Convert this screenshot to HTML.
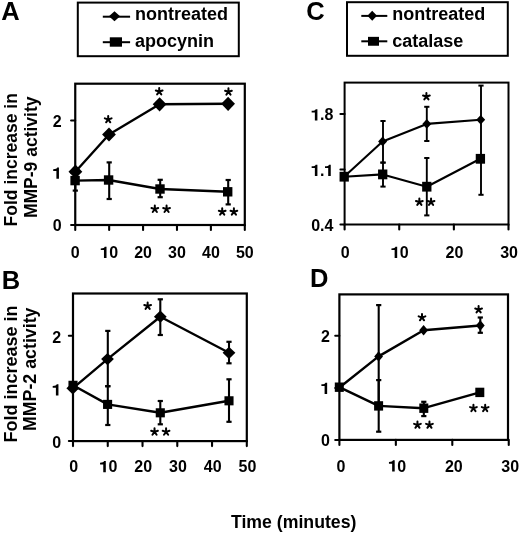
<!DOCTYPE html>
<html><head><meta charset="utf-8"><style>
html,body{margin:0;padding:0;background:#fff;}
svg{display:block;will-change:transform;filter:blur(0.3px);}
text{font-family:"Liberation Sans",sans-serif;font-weight:bold;fill:#000;}
</style></head><body>
<svg width="520" height="534" viewBox="0 0 520 534">
<text x="1.2" y="19.6" font-size="25.5" text-anchor="start" >A</text>
<text x="1.8" y="289.1" font-size="25.5" text-anchor="start" >B</text>
<text x="306.2" y="20.2" font-size="25.5" text-anchor="start" >C</text>
<text x="310.0" y="286.9" font-size="25.5" text-anchor="start" >D</text>
<rect x="77.8" y="2.6" width="161" height="53.6" fill="none" stroke="#000" stroke-width="2"/>
<line x1="102.80" y1="16.70" x2="130.10" y2="16.70" stroke="#000" stroke-width="2.0" stroke-linecap="butt"/>
<polygon points="108.90,16.20 114.50,11.20 120.10,16.20 114.50,21.20" fill="#000"/>
<line x1="102.80" y1="42.20" x2="130.10" y2="42.20" stroke="#000" stroke-width="2.0" stroke-linecap="butt"/>
<rect x="109.80" y="37.30" width="12.20" height="9.40" fill="#000"/>
<text x="135.0" y="20.0" font-size="18" text-anchor="start" >nontreated</text>
<text x="135.0" y="47.1" font-size="18" text-anchor="start" >apocynin</text>
<rect x="347" y="2.2" width="160.8" height="53.6" fill="none" stroke="#000" stroke-width="2"/>
<line x1="361.30" y1="15.90" x2="387.30" y2="15.90" stroke="#000" stroke-width="2.0" stroke-linecap="butt"/>
<polygon points="367.40,15.80 372.20,10.80 377.00,15.80 372.20,20.80" fill="#000"/>
<line x1="361.30" y1="41.30" x2="387.30" y2="41.30" stroke="#000" stroke-width="2.0" stroke-linecap="butt"/>
<rect x="368.00" y="36.85" width="11.00" height="8.90" fill="#000"/>
<text x="392.3" y="20.0" font-size="18" text-anchor="start" >nontreated</text>
<text x="392.3" y="47.0" font-size="18" text-anchor="start" >catalase</text>
<rect x="75.25" y="83.7" width="169.55" height="141.30" fill="none" stroke="#000" stroke-width="2.2"/>
<line x1="75.25" y1="225.00" x2="75.25" y2="230.00" stroke="#000" stroke-width="2.1" stroke-linecap="round"/>
<text x="70.80" y="258.00" font-size="16">0</text>
<line x1="109.16" y1="225.00" x2="109.16" y2="230.00" stroke="#000" stroke-width="2.1" stroke-linecap="round"/>
<path d="M103.96,258.00L106.51,258.00L106.51,246.75L104.76,246.75C104.46,247.80 103.26,248.30 100.76,248.40L100.76,250.10L103.96,250.10Z" fill="#000"/>
<text x="109.16" y="258.00" font-size="16">0</text>
<line x1="143.07" y1="225.00" x2="143.07" y2="230.00" stroke="#000" stroke-width="2.1" stroke-linecap="round"/>
<text x="134.17" y="258.00" font-size="16">2</text>
<text x="143.07" y="258.00" font-size="16">0</text>
<line x1="176.98" y1="225.00" x2="176.98" y2="230.00" stroke="#000" stroke-width="2.1" stroke-linecap="round"/>
<text x="168.08" y="258.00" font-size="16">3</text>
<text x="176.98" y="258.00" font-size="16">0</text>
<line x1="210.89" y1="225.00" x2="210.89" y2="230.00" stroke="#000" stroke-width="2.1" stroke-linecap="round"/>
<text x="201.99" y="258.00" font-size="16">4</text>
<text x="210.89" y="258.00" font-size="16">0</text>
<line x1="244.80" y1="225.00" x2="244.80" y2="230.00" stroke="#000" stroke-width="2.1" stroke-linecap="round"/>
<text x="235.90" y="258.00" font-size="16">5</text>
<text x="244.80" y="258.00" font-size="16">0</text>
<line x1="71.05" y1="225.00" x2="75.25" y2="225.00" stroke="#000" stroke-width="2.0" stroke-linecap="round"/>
<text x="52.70" y="231.00" font-size="16">0</text>
<line x1="71.05" y1="172.80" x2="75.25" y2="172.80" stroke="#000" stroke-width="2.0" stroke-linecap="round"/>
<path d="M56.40,178.80L58.95,178.80L58.95,167.55L57.20,167.55C56.90,168.60 55.70,169.10 53.20,169.20L53.20,170.90L56.40,170.90Z" fill="#000"/>
<line x1="71.05" y1="120.60" x2="75.25" y2="120.60" stroke="#000" stroke-width="2.0" stroke-linecap="round"/>
<text x="52.70" y="126.60" font-size="16">2</text>
<polyline points="75.10,180.60 108.60,180.00 160.00,189.00 227.70,191.80" fill="none" stroke="#000" stroke-width="2.4" stroke-linejoin="round"/>
<line x1="75.30" y1="170.60" x2="75.30" y2="190.60" stroke="#000" stroke-width="2.1" stroke-linecap="butt"/>
<line x1="72.70" y1="170.60" x2="77.90" y2="170.60" stroke="#000" stroke-width="2.2" stroke-linecap="butt"/>
<line x1="72.70" y1="190.60" x2="77.90" y2="190.60" stroke="#000" stroke-width="2.2" stroke-linecap="butt"/>
<line x1="109.20" y1="162.40" x2="109.20" y2="199.00" stroke="#000" stroke-width="2.1" stroke-linecap="butt"/>
<line x1="106.60" y1="162.40" x2="111.80" y2="162.40" stroke="#000" stroke-width="2.2" stroke-linecap="butt"/>
<line x1="106.60" y1="199.00" x2="111.80" y2="199.00" stroke="#000" stroke-width="2.2" stroke-linecap="butt"/>
<line x1="160.20" y1="179.80" x2="160.20" y2="197.20" stroke="#000" stroke-width="2.1" stroke-linecap="butt"/>
<line x1="157.60" y1="179.80" x2="162.80" y2="179.80" stroke="#000" stroke-width="2.2" stroke-linecap="butt"/>
<line x1="157.60" y1="197.20" x2="162.80" y2="197.20" stroke="#000" stroke-width="2.2" stroke-linecap="butt"/>
<line x1="228.20" y1="180.00" x2="228.20" y2="204.40" stroke="#000" stroke-width="2.1" stroke-linecap="butt"/>
<line x1="225.60" y1="180.00" x2="230.80" y2="180.00" stroke="#000" stroke-width="2.2" stroke-linecap="butt"/>
<line x1="225.60" y1="204.40" x2="230.80" y2="204.40" stroke="#000" stroke-width="2.2" stroke-linecap="butt"/>
<rect x="70.40" y="175.90" width="9.40" height="9.40" fill="#000"/>
<rect x="103.90" y="175.30" width="9.40" height="9.40" fill="#000"/>
<rect x="155.30" y="184.30" width="9.40" height="9.40" fill="#000"/>
<rect x="223.00" y="187.10" width="9.40" height="9.40" fill="#000"/>
<polyline points="75.40,171.70 109.00,134.50 159.60,104.30 228.10,103.80" fill="none" stroke="#000" stroke-width="2.4" stroke-linejoin="round"/>
<polygon points="68.50,171.70 75.40,164.60 82.30,171.70 75.40,178.80" fill="#000"/>
<polygon points="102.10,134.50 109.00,127.40 115.90,134.50 109.00,141.60" fill="#000"/>
<polygon points="152.70,104.30 159.60,97.20 166.50,104.30 159.60,111.40" fill="#000"/>
<polygon points="221.20,103.80 228.10,96.70 235.00,103.80 228.10,110.90" fill="#000"/>
<rect x="73.0" y="293.5" width="173.80" height="147.60" fill="none" stroke="#000" stroke-width="2.2"/>
<line x1="73.00" y1="441.10" x2="73.00" y2="446.10" stroke="#000" stroke-width="2.1" stroke-linecap="round"/>
<text x="69.25" y="472.30" font-size="16">0</text>
<line x1="107.76" y1="441.10" x2="107.76" y2="446.10" stroke="#000" stroke-width="2.1" stroke-linecap="round"/>
<path d="M103.26,472.30L105.81,472.30L105.81,461.05L104.06,461.05C103.76,462.10 102.56,462.60 100.06,462.70L100.06,464.40L103.26,464.40Z" fill="#000"/>
<text x="108.46" y="472.30" font-size="16">0</text>
<line x1="142.52" y1="441.10" x2="142.52" y2="446.10" stroke="#000" stroke-width="2.1" stroke-linecap="round"/>
<text x="134.32" y="472.30" font-size="16">2</text>
<text x="143.22" y="472.30" font-size="16">0</text>
<line x1="177.28" y1="441.10" x2="177.28" y2="446.10" stroke="#000" stroke-width="2.1" stroke-linecap="round"/>
<text x="169.08" y="472.30" font-size="16">3</text>
<text x="177.98" y="472.30" font-size="16">0</text>
<line x1="212.04" y1="441.10" x2="212.04" y2="446.10" stroke="#000" stroke-width="2.1" stroke-linecap="round"/>
<text x="203.84" y="472.30" font-size="16">4</text>
<text x="212.74" y="472.30" font-size="16">0</text>
<line x1="246.80" y1="441.10" x2="246.80" y2="446.10" stroke="#000" stroke-width="2.1" stroke-linecap="round"/>
<text x="238.60" y="472.30" font-size="16">5</text>
<text x="247.50" y="472.30" font-size="16">0</text>
<line x1="68.80" y1="441.10" x2="73.00" y2="441.10" stroke="#000" stroke-width="2.0" stroke-linecap="round"/>
<text x="52.20" y="448.30" font-size="16">0</text>
<line x1="68.80" y1="388.40" x2="73.00" y2="388.40" stroke="#000" stroke-width="2.0" stroke-linecap="round"/>
<path d="M55.90,395.60L58.45,395.60L58.45,384.35L56.70,384.35C56.40,385.40 55.20,385.90 52.70,386.00L52.70,387.70L55.90,387.70Z" fill="#000"/>
<line x1="68.80" y1="335.70" x2="73.00" y2="335.70" stroke="#000" stroke-width="2.0" stroke-linecap="round"/>
<text x="52.20" y="342.90" font-size="16">2</text>
<polyline points="73.00,385.30 107.60,404.40 160.30,412.80 229.00,400.80" fill="none" stroke="#000" stroke-width="2.4" stroke-linejoin="round"/>
<line x1="107.80" y1="386.20" x2="107.80" y2="425.00" stroke="#000" stroke-width="2.1" stroke-linecap="butt"/>
<line x1="105.20" y1="386.20" x2="110.40" y2="386.20" stroke="#000" stroke-width="2.2" stroke-linecap="butt"/>
<line x1="105.20" y1="425.00" x2="110.40" y2="425.00" stroke="#000" stroke-width="2.2" stroke-linecap="butt"/>
<line x1="160.30" y1="401.00" x2="160.30" y2="424.30" stroke="#000" stroke-width="2.1" stroke-linecap="butt"/>
<line x1="157.70" y1="401.00" x2="162.90" y2="401.00" stroke="#000" stroke-width="2.2" stroke-linecap="butt"/>
<line x1="157.70" y1="424.30" x2="162.90" y2="424.30" stroke="#000" stroke-width="2.2" stroke-linecap="butt"/>
<line x1="229.00" y1="379.30" x2="229.00" y2="421.80" stroke="#000" stroke-width="2.1" stroke-linecap="butt"/>
<line x1="226.40" y1="379.30" x2="231.60" y2="379.30" stroke="#000" stroke-width="2.2" stroke-linecap="butt"/>
<line x1="226.40" y1="421.80" x2="231.60" y2="421.80" stroke="#000" stroke-width="2.2" stroke-linecap="butt"/>
<rect x="68.45" y="380.75" width="9.10" height="9.10" fill="#000"/>
<rect x="103.05" y="399.85" width="9.10" height="9.10" fill="#000"/>
<rect x="155.75" y="408.25" width="9.10" height="9.10" fill="#000"/>
<rect x="224.45" y="396.25" width="9.10" height="9.10" fill="#000"/>
<polyline points="72.80,388.30 107.50,359.10 160.30,316.70 229.00,352.80" fill="none" stroke="#000" stroke-width="2.4" stroke-linejoin="round"/>
<line x1="107.80" y1="330.90" x2="107.80" y2="386.20" stroke="#000" stroke-width="2.1" stroke-linecap="butt"/>
<line x1="105.20" y1="330.90" x2="110.40" y2="330.90" stroke="#000" stroke-width="2.2" stroke-linecap="butt"/>
<line x1="105.20" y1="386.20" x2="110.40" y2="386.20" stroke="#000" stroke-width="2.2" stroke-linecap="butt"/>
<line x1="160.30" y1="299.30" x2="160.30" y2="335.00" stroke="#000" stroke-width="2.1" stroke-linecap="butt"/>
<line x1="157.70" y1="299.30" x2="162.90" y2="299.30" stroke="#000" stroke-width="2.2" stroke-linecap="butt"/>
<line x1="157.70" y1="335.00" x2="162.90" y2="335.00" stroke="#000" stroke-width="2.2" stroke-linecap="butt"/>
<line x1="229.00" y1="341.80" x2="229.00" y2="363.30" stroke="#000" stroke-width="2.1" stroke-linecap="butt"/>
<line x1="226.40" y1="341.80" x2="231.60" y2="341.80" stroke="#000" stroke-width="2.2" stroke-linecap="butt"/>
<line x1="226.40" y1="363.30" x2="231.60" y2="363.30" stroke="#000" stroke-width="2.2" stroke-linecap="butt"/>
<polygon points="66.40,388.30 72.80,382.20 79.20,388.30 72.80,394.40" fill="#000"/>
<polygon points="101.10,359.10 107.50,353.00 113.90,359.10 107.50,365.20" fill="#000"/>
<polygon points="153.90,316.70 160.30,310.60 166.70,316.70 160.30,322.80" fill="#000"/>
<polygon points="222.60,352.80 229.00,346.70 235.40,352.80 229.00,358.90" fill="#000"/>
<rect x="344.6" y="82.6" width="163.90" height="141.90" fill="none" stroke="#000" stroke-width="2.0"/>
<line x1="344.60" y1="224.50" x2="344.60" y2="229.50" stroke="#000" stroke-width="2.1" stroke-linecap="round"/>
<text x="340.75" y="258.00" font-size="16">0</text>
<line x1="399.23" y1="224.50" x2="399.23" y2="229.50" stroke="#000" stroke-width="2.1" stroke-linecap="round"/>
<path d="M394.64,258.00L397.19,258.00L397.19,246.75L395.44,246.75C395.14,247.80 393.94,248.30 391.44,248.40L391.44,250.10L394.64,250.10Z" fill="#000"/>
<text x="399.83" y="258.00" font-size="16">0</text>
<line x1="453.87" y1="224.50" x2="453.87" y2="229.50" stroke="#000" stroke-width="2.1" stroke-linecap="round"/>
<text x="445.57" y="258.00" font-size="16">2</text>
<text x="454.47" y="258.00" font-size="16">0</text>
<line x1="508.50" y1="224.50" x2="508.50" y2="229.50" stroke="#000" stroke-width="2.1" stroke-linecap="round"/>
<text x="500.20" y="258.00" font-size="16">3</text>
<text x="509.10" y="258.00" font-size="16">0</text>
<line x1="340.40" y1="224.50" x2="344.60" y2="224.50" stroke="#000" stroke-width="2.0" stroke-linecap="round"/>
<text x="311.16" y="230.90" font-size="16">0</text>
<text x="320.06" y="230.90" font-size="16">.</text>
<text x="324.50" y="230.90" font-size="16">4</text>
<line x1="340.40" y1="169.50" x2="344.60" y2="169.50" stroke="#000" stroke-width="2.0" stroke-linecap="round"/>
<path d="M314.86,175.90L317.41,175.90L317.41,164.65L315.66,164.65C315.36,165.70 314.16,166.20 311.66,166.30L311.66,168.00L314.86,168.00Z" fill="#000"/>
<text x="320.06" y="175.90" font-size="16">.</text>
<path d="M328.20,175.90L330.75,175.90L330.75,164.65L329.00,164.65C328.70,165.70 327.50,166.20 325.00,166.30L325.00,168.00L328.20,168.00Z" fill="#000"/>
<line x1="340.40" y1="114.00" x2="344.60" y2="114.00" stroke="#000" stroke-width="2.0" stroke-linecap="round"/>
<path d="M314.86,120.40L317.41,120.40L317.41,109.15L315.66,109.15C315.36,110.20 314.16,110.70 311.66,110.80L311.66,112.50L314.86,112.50Z" fill="#000"/>
<text x="320.06" y="120.40" font-size="16">.</text>
<text x="324.50" y="120.40" font-size="16">8</text>
<polyline points="344.20,176.70 382.70,174.40 426.80,186.70 480.40,158.80" fill="none" stroke="#000" stroke-width="2.1" stroke-linejoin="round"/>
<line x1="383.00" y1="162.60" x2="383.00" y2="186.60" stroke="#000" stroke-width="1.9" stroke-linecap="butt"/>
<line x1="380.40" y1="162.60" x2="385.60" y2="162.60" stroke="#000" stroke-width="2.0" stroke-linecap="butt"/>
<line x1="380.40" y1="186.60" x2="385.60" y2="186.60" stroke="#000" stroke-width="2.0" stroke-linecap="butt"/>
<line x1="426.80" y1="158.00" x2="426.80" y2="215.40" stroke="#000" stroke-width="1.9" stroke-linecap="butt"/>
<line x1="424.20" y1="158.00" x2="429.40" y2="158.00" stroke="#000" stroke-width="2.0" stroke-linecap="butt"/>
<line x1="424.20" y1="215.40" x2="429.40" y2="215.40" stroke="#000" stroke-width="2.0" stroke-linecap="butt"/>
<line x1="481.00" y1="85.60" x2="481.00" y2="194.80" stroke="#000" stroke-width="1.9" stroke-linecap="butt"/>
<line x1="478.40" y1="85.60" x2="483.60" y2="85.60" stroke="#000" stroke-width="2.0" stroke-linecap="butt"/>
<line x1="478.40" y1="194.80" x2="483.60" y2="194.80" stroke="#000" stroke-width="2.0" stroke-linecap="butt"/>
<rect x="339.55" y="171.80" width="9.30" height="9.80" fill="#000"/>
<rect x="378.05" y="169.50" width="9.30" height="9.80" fill="#000"/>
<rect x="422.15" y="181.80" width="9.30" height="9.80" fill="#000"/>
<rect x="475.75" y="153.90" width="9.30" height="9.80" fill="#000"/>
<polyline points="344.40,176.50 382.60,141.40 426.80,123.90 480.70,119.70" fill="none" stroke="#000" stroke-width="2.1" stroke-linejoin="round"/>
<line x1="383.00" y1="121.00" x2="383.00" y2="162.60" stroke="#000" stroke-width="1.9" stroke-linecap="butt"/>
<line x1="380.40" y1="121.00" x2="385.60" y2="121.00" stroke="#000" stroke-width="2.0" stroke-linecap="butt"/>
<line x1="380.40" y1="162.60" x2="385.60" y2="162.60" stroke="#000" stroke-width="2.0" stroke-linecap="butt"/>
<line x1="426.80" y1="106.80" x2="426.80" y2="141.00" stroke="#000" stroke-width="1.9" stroke-linecap="butt"/>
<line x1="424.20" y1="106.80" x2="429.40" y2="106.80" stroke="#000" stroke-width="2.0" stroke-linecap="butt"/>
<line x1="424.20" y1="141.00" x2="429.40" y2="141.00" stroke="#000" stroke-width="2.0" stroke-linecap="butt"/>
<polygon points="378.10,141.40 382.60,136.60 387.10,141.40 382.60,146.20" fill="#000"/>
<polygon points="422.30,123.90 426.80,119.10 431.30,123.90 426.80,128.70" fill="#000"/>
<polygon points="476.20,119.70 480.70,114.90 485.20,119.70 480.70,124.50" fill="#000"/>
<rect x="339.4" y="294.4" width="168.60" height="145.50" fill="none" stroke="#000" stroke-width="2.2"/>
<line x1="339.40" y1="439.90" x2="339.40" y2="444.90" stroke="#000" stroke-width="2.1" stroke-linecap="round"/>
<text x="336.45" y="471.60" font-size="16">0</text>
<line x1="395.85" y1="439.90" x2="395.85" y2="444.90" stroke="#000" stroke-width="2.1" stroke-linecap="round"/>
<path d="M392.15,471.60L394.70,471.60L394.70,460.35L392.95,460.35C392.65,461.40 391.45,461.90 388.95,462.00L388.95,463.70L392.15,463.70Z" fill="#000"/>
<text x="397.35" y="471.60" font-size="16">0</text>
<line x1="452.30" y1="439.90" x2="452.30" y2="444.90" stroke="#000" stroke-width="2.1" stroke-linecap="round"/>
<text x="444.90" y="471.60" font-size="16">2</text>
<text x="453.80" y="471.60" font-size="16">0</text>
<line x1="508.75" y1="439.90" x2="508.75" y2="444.90" stroke="#000" stroke-width="2.1" stroke-linecap="round"/>
<text x="501.35" y="471.60" font-size="16">3</text>
<text x="510.25" y="471.60" font-size="16">0</text>
<line x1="335.20" y1="439.90" x2="339.40" y2="439.90" stroke="#000" stroke-width="2.0" stroke-linecap="round"/>
<text x="320.90" y="445.90" font-size="16">0</text>
<line x1="335.20" y1="387.90" x2="339.40" y2="387.90" stroke="#000" stroke-width="2.0" stroke-linecap="round"/>
<path d="M324.60,393.90L327.15,393.90L327.15,382.65L325.40,382.65C325.10,383.70 323.90,384.20 321.40,384.30L321.40,386.00L324.60,386.00Z" fill="#000"/>
<line x1="335.20" y1="335.70" x2="339.40" y2="335.70" stroke="#000" stroke-width="2.0" stroke-linecap="round"/>
<text x="320.90" y="341.70" font-size="16">2</text>
<polyline points="339.30,387.20 378.60,405.90 423.80,408.20 479.80,392.40" fill="none" stroke="#000" stroke-width="2.4" stroke-linejoin="round"/>
<line x1="378.70" y1="380.10" x2="378.70" y2="431.70" stroke="#000" stroke-width="2.1" stroke-linecap="butt"/>
<line x1="376.10" y1="380.10" x2="381.30" y2="380.10" stroke="#000" stroke-width="2.2" stroke-linecap="butt"/>
<line x1="376.10" y1="431.70" x2="381.30" y2="431.70" stroke="#000" stroke-width="2.2" stroke-linecap="butt"/>
<line x1="423.80" y1="401.80" x2="423.80" y2="416.10" stroke="#000" stroke-width="2.1" stroke-linecap="butt"/>
<line x1="421.20" y1="401.80" x2="426.40" y2="401.80" stroke="#000" stroke-width="2.2" stroke-linecap="butt"/>
<line x1="421.20" y1="416.10" x2="426.40" y2="416.10" stroke="#000" stroke-width="2.2" stroke-linecap="butt"/>
<rect x="334.80" y="382.50" width="9.00" height="9.40" fill="#000"/>
<rect x="374.10" y="401.20" width="9.00" height="9.40" fill="#000"/>
<rect x="419.30" y="403.50" width="9.00" height="9.40" fill="#000"/>
<rect x="475.30" y="387.70" width="9.00" height="9.40" fill="#000"/>
<polyline points="339.50,387.50 378.60,356.40 423.60,330.20 480.30,325.50" fill="none" stroke="#000" stroke-width="2.4" stroke-linejoin="round"/>
<line x1="378.70" y1="305.10" x2="378.70" y2="407.70" stroke="#000" stroke-width="2.1" stroke-linecap="butt"/>
<line x1="376.10" y1="305.10" x2="381.30" y2="305.10" stroke="#000" stroke-width="2.2" stroke-linecap="butt"/>
<line x1="376.10" y1="407.70" x2="381.30" y2="407.70" stroke="#000" stroke-width="2.2" stroke-linecap="butt"/>
<line x1="480.30" y1="317.50" x2="480.30" y2="332.80" stroke="#000" stroke-width="2.1" stroke-linecap="butt"/>
<line x1="477.70" y1="317.50" x2="482.90" y2="317.50" stroke="#000" stroke-width="2.2" stroke-linecap="butt"/>
<line x1="477.70" y1="332.80" x2="482.90" y2="332.80" stroke="#000" stroke-width="2.2" stroke-linecap="butt"/>
<polygon points="374.20,356.40 378.60,351.20 383.00,356.40 378.60,361.60" fill="#000"/>
<polygon points="419.20,330.20 423.60,325.00 428.00,330.20 423.60,335.40" fill="#000"/>
<polygon points="475.90,325.50 480.30,320.30 484.70,325.50 480.30,330.70" fill="#000"/>
<path d="M108.20,119.44L108.20,115.89M108.20,119.44L111.58,118.34M108.20,119.44L110.29,122.31M108.20,119.44L106.11,122.31M108.20,119.44L104.82,118.34" stroke="#000" stroke-width="2.0" stroke-linecap="round" fill="none"/>
<path d="M159.20,91.54L159.20,87.99M159.20,91.54L162.58,90.44M159.20,91.54L161.29,94.41M159.20,91.54L157.11,94.41M159.20,91.54L155.82,90.44" stroke="#000" stroke-width="2.0" stroke-linecap="round" fill="none"/>
<path d="M228.45,91.79L228.45,88.24M228.45,91.79L231.83,90.69M228.45,91.79L230.54,94.66M228.45,91.79L226.36,94.66M228.45,91.79L225.07,90.69" stroke="#000" stroke-width="2.0" stroke-linecap="round" fill="none"/>
<path d="M147.65,306.04L147.65,302.49M147.65,306.04L151.03,304.94M147.65,306.04L149.74,308.91M147.65,306.04L145.56,308.91M147.65,306.04L144.27,304.94" stroke="#000" stroke-width="2.0" stroke-linecap="round" fill="none"/>
<path d="M426.40,96.54L426.40,92.99M426.40,96.54L429.78,95.44M426.40,96.54L428.49,99.41M426.40,96.54L424.31,99.41M426.40,96.54L423.02,95.44" stroke="#000" stroke-width="2.0" stroke-linecap="round" fill="none"/>
<path d="M422.00,317.44L422.00,313.89M422.00,317.44L425.38,316.34M422.00,317.44L424.09,320.31M422.00,317.44L419.91,320.31M422.00,317.44L418.62,316.34" stroke="#000" stroke-width="2.0" stroke-linecap="round" fill="none"/>
<path d="M478.60,309.59L478.60,306.04M478.60,309.59L481.98,308.49M478.60,309.59L480.69,312.46M478.60,309.59L476.51,312.46M478.60,309.59L475.22,308.49" stroke="#000" stroke-width="2.0" stroke-linecap="round" fill="none"/>
<path d="M154.82,209.14L154.82,205.59M154.82,209.14L158.20,208.04M154.82,209.14L156.91,212.01M154.82,209.14L152.74,212.01M154.82,209.14L151.45,208.04" stroke="#000" stroke-width="2.0" stroke-linecap="round" fill="none"/>
<path d="M166.57,209.14L166.57,205.59M166.57,209.14L169.95,208.04M166.57,209.14L168.66,212.01M166.57,209.14L164.49,212.01M166.57,209.14L163.20,208.04" stroke="#000" stroke-width="2.0" stroke-linecap="round" fill="none"/>
<path d="M222.20,211.79L222.20,208.24M222.20,211.79L225.58,210.69M222.20,211.79L224.29,214.66M222.20,211.79L220.11,214.66M222.20,211.79L218.82,210.69" stroke="#000" stroke-width="2.0" stroke-linecap="round" fill="none"/>
<path d="M233.90,211.79L233.90,208.24M233.90,211.79L237.28,210.69M233.90,211.79L235.99,214.66M233.90,211.79L231.81,214.66M233.90,211.79L230.52,210.69" stroke="#000" stroke-width="2.0" stroke-linecap="round" fill="none"/>
<path d="M154.53,431.89L154.53,428.34M154.53,431.89L157.90,430.79M154.53,431.89L156.61,434.76M154.53,431.89L152.44,434.76M154.53,431.89L151.15,430.79" stroke="#000" stroke-width="2.0" stroke-linecap="round" fill="none"/>
<path d="M166.08,431.89L166.08,428.34M166.08,431.89L169.45,430.79M166.08,431.89L168.16,434.76M166.08,431.89L163.99,434.76M166.08,431.89L162.70,430.79" stroke="#000" stroke-width="2.0" stroke-linecap="round" fill="none"/>
<path d="M419.35,202.04L419.35,198.49M419.35,202.04L422.73,200.94M419.35,202.04L421.44,204.91M419.35,202.04L417.26,204.91M419.35,202.04L415.97,200.94" stroke="#000" stroke-width="2.0" stroke-linecap="round" fill="none"/>
<path d="M431.05,202.04L431.05,198.49M431.05,202.04L434.43,200.94M431.05,202.04L433.14,204.91M431.05,202.04L428.96,204.91M431.05,202.04L427.67,200.94" stroke="#000" stroke-width="2.0" stroke-linecap="round" fill="none"/>
<path d="M417.45,424.94L417.45,421.39M417.45,424.94L420.83,423.84M417.45,424.94L419.54,427.81M417.45,424.94L415.36,427.81M417.45,424.94L414.07,423.84" stroke="#000" stroke-width="2.0" stroke-linecap="round" fill="none"/>
<path d="M429.45,424.94L429.45,421.39M429.45,424.94L432.83,423.84M429.45,424.94L431.54,427.81M429.45,424.94L427.36,427.81M429.45,424.94L426.07,423.84" stroke="#000" stroke-width="2.0" stroke-linecap="round" fill="none"/>
<path d="M473.43,408.24L473.43,404.69M473.43,408.24L476.80,407.14M473.43,408.24L475.51,411.11M473.43,408.24L471.34,411.11M473.43,408.24L470.05,407.14" stroke="#000" stroke-width="2.0" stroke-linecap="round" fill="none"/>
<path d="M485.18,408.24L485.18,404.69M485.18,408.24L488.55,407.14M485.18,408.24L487.26,411.11M485.18,408.24L483.09,411.11M485.18,408.24L481.80,407.14" stroke="#000" stroke-width="2.0" stroke-linecap="round" fill="none"/>
<text x="293.7" y="527.6" font-size="17.7" text-anchor="middle">Time (minutes)</text>
<text transform="translate(16.6,159.8) rotate(-90)" x="0" y="0" font-size="17.5" text-anchor="middle">Fold increase in</text>
<text transform="translate(36.6,157.3) rotate(-90)" x="0" y="0" font-size="17.5" text-anchor="middle">MMP-9 activity</text>
<text transform="translate(16.8,374.0) rotate(-90)" x="0" y="0" font-size="18.0" text-anchor="middle">Fold increase in</text>
<text transform="translate(36.3,369.3) rotate(-90)" x="0" y="0" font-size="17.8" text-anchor="middle">MMP-2 activity</text>
</svg>
</body></html>
